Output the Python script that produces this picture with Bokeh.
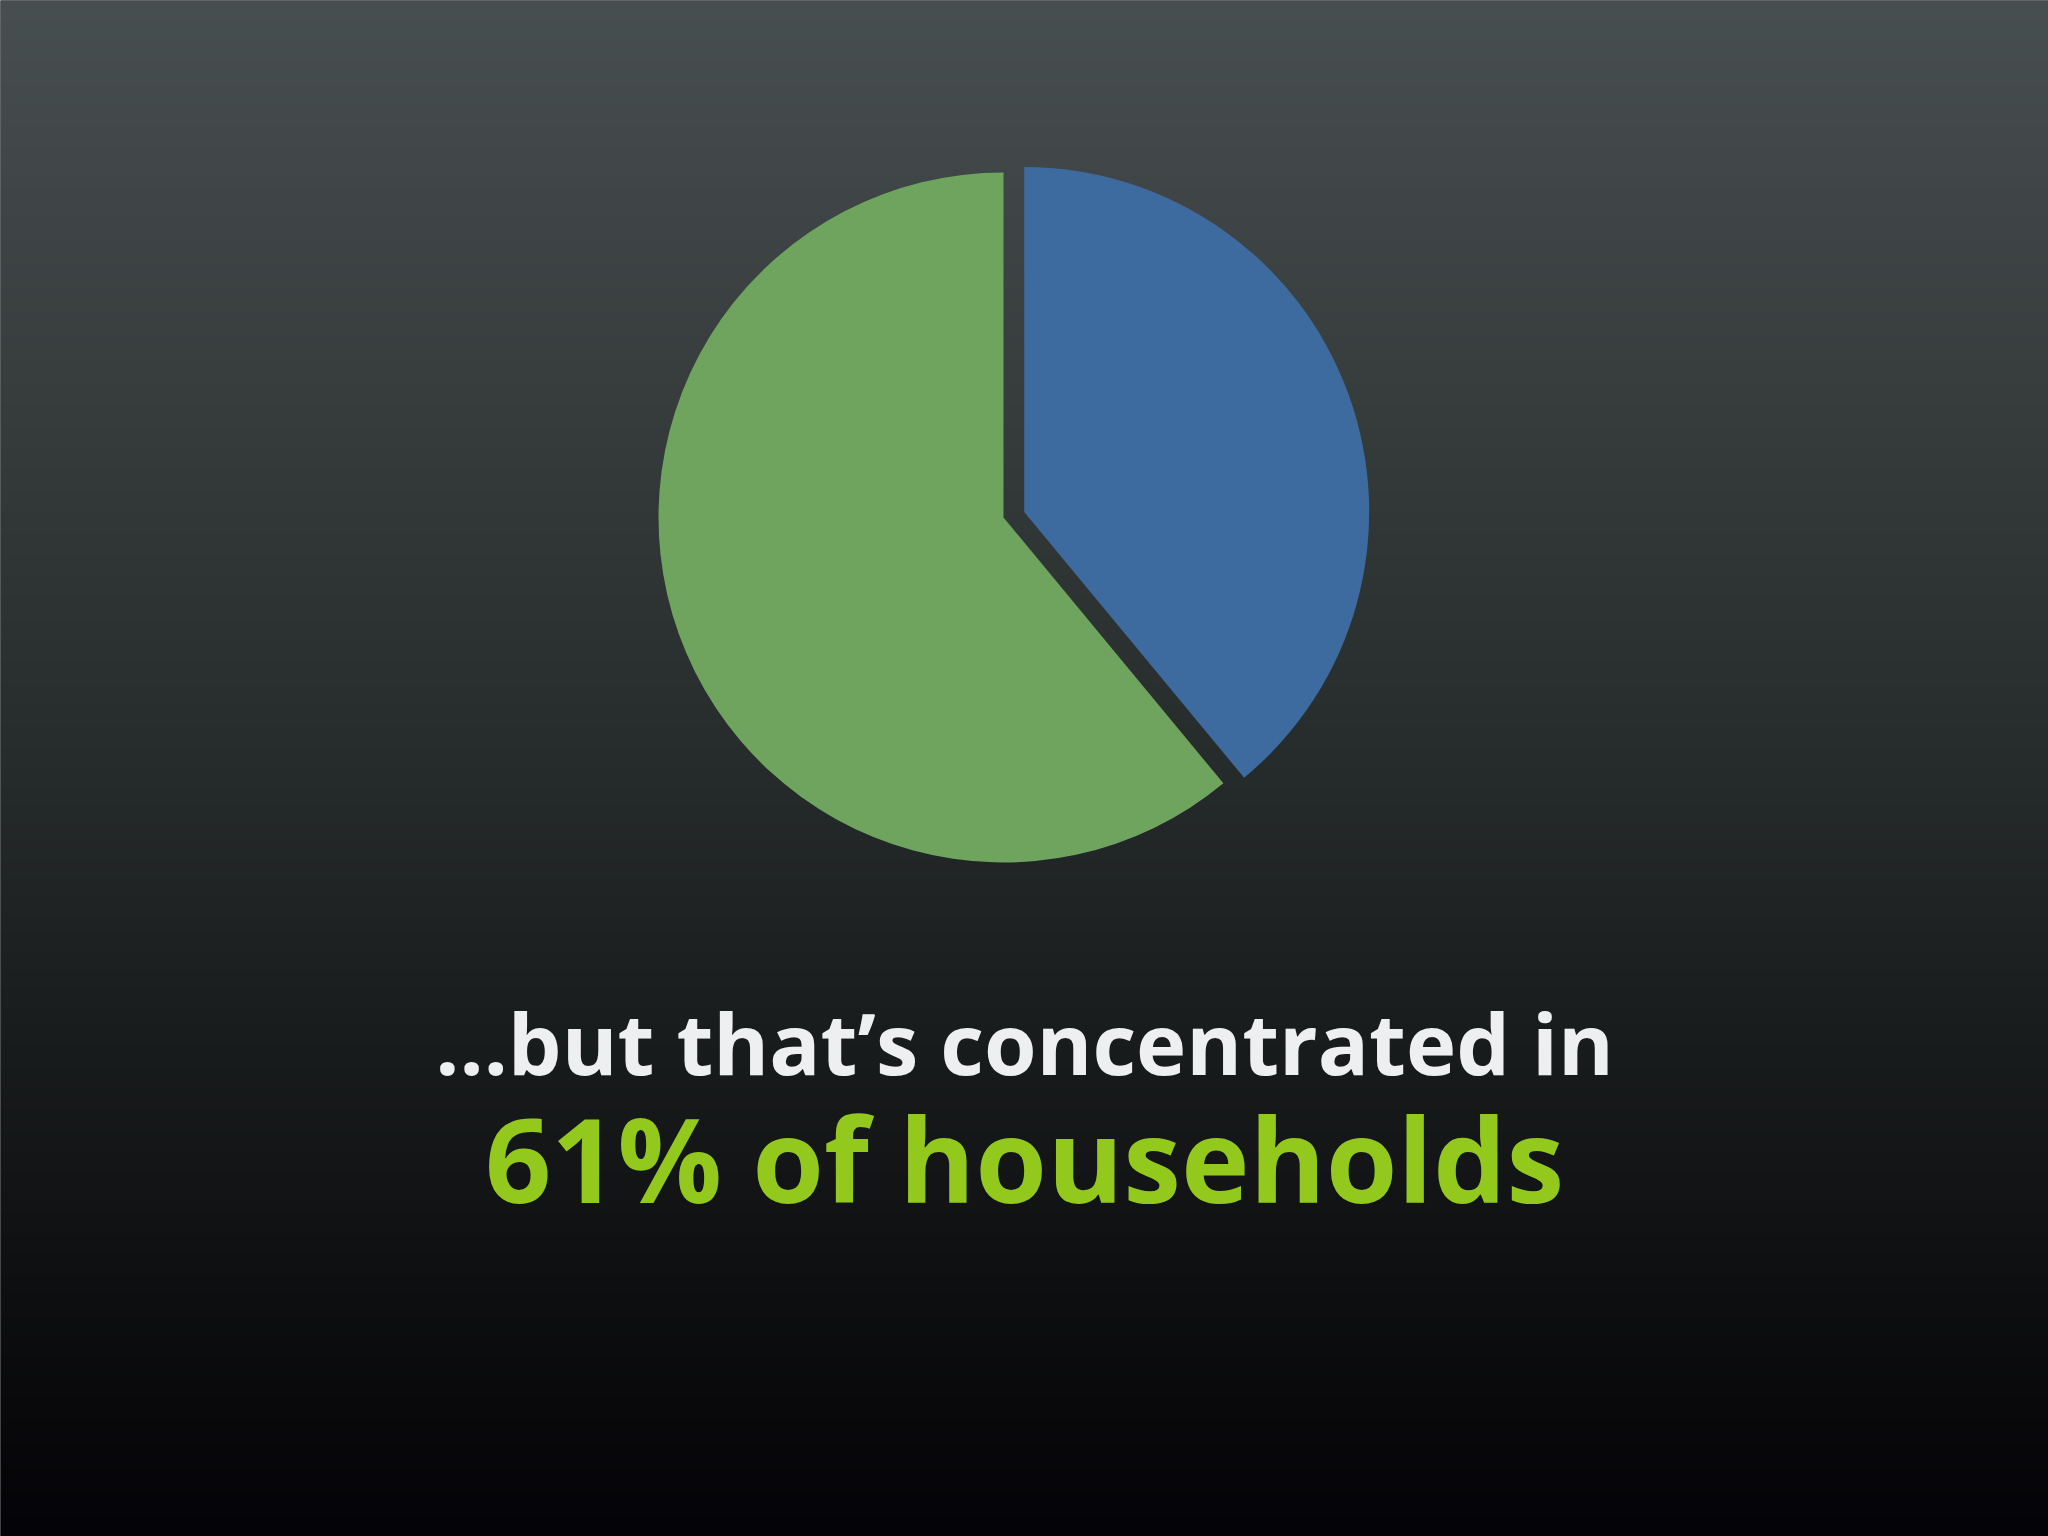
import numpy as np
from bokeh.plotting import figure
from bokeh.models import Range1d
from bokeh.core.properties import value
from bokeh.embed import file_html
from bokeh.resources import INLINE

# ---- data ----
labels = ["Concentrated", "Rest"]
shares = [39, 61]                       # percent of households
slice_colors = ["#3d6b9f", "#6ea45e"]
explode = [22, 0]                       # px offset of each slice
line1 = "\u2026but that\u2019s concentrated in"
line2 = "61% of households"

# background gradient stops (fraction from top, rgb)
grad_pos = [0.0, 0.25, 0.5, 0.75, 1.0]
grad_rgb = [(72, 79, 80), (56, 61, 62), (38, 43, 43), (20, 22, 23), (4, 3, 7)]

W, H = 2048, 1536
p = figure(width=W, height=H, output_backend="svg", toolbar_location=None,
           x_range=Range1d(0, W), y_range=Range1d(0, H),
           min_border=0)
p.axis.visible = False
p.grid.visible = False
p.outline_line_color = None
p.background_fill_color = "#000000"
p.border_fill_color = "#000000"

# gradient background image
t = np.linspace(0, 1, H)
img = np.zeros((H, 1), dtype=np.uint32)
view = img.view(dtype=np.uint8).reshape((H, 1, 4))
for c in range(3):
    ch = np.interp(t, grad_pos, [g[c] for g in grad_rgb])
    view[:, 0, c] = ch[::-1].astype(np.uint8)
view[:, 0, 3] = 255
p.image_rgba(image=[img], x=-2, y=-2, dw=W + 4, dh=H + 4)

# pie
cx, cy, R = 1003, 1019, 345
total = float(sum(shares))
start = np.pi / 2
for s, col, ex in zip(shares, slice_colors, explode):
    sweep = 2 * np.pi * s / total
    end = start - sweep
    mid = (start + end) / 2
    ox, oy = ex * np.cos(mid), ex * np.sin(mid) * 0.75
    p.wedge(x=cx + ox, y=cy + oy, radius=R, start_angle=start, end_angle=end,
            direction="clock", fill_color=col, line_color=None)
    start = end

# text (baseline compensated for renderer offset)
s1, s2 = 85, 116
p.text(x=[1024], y=[H - 1075 + 0.4 * s1], text=[line1], text_align="center",
       text_baseline="alphabetic", text_font=value("Open Sans"),
       text_font_style="bold", text_font_size=f"{s1}px", text_color="#eeeff1")
p.text(x=[1024], y=[H - 1204 + 0.4 * s2], text=[line2], text_align="center",
       text_baseline="alphabetic", text_font=value("Open Sans"),
       text_font_style="bold", text_font_size=f"{s2}px", text_color="#93c91c")

open("out.html", "w").write(file_html(p, INLINE))
